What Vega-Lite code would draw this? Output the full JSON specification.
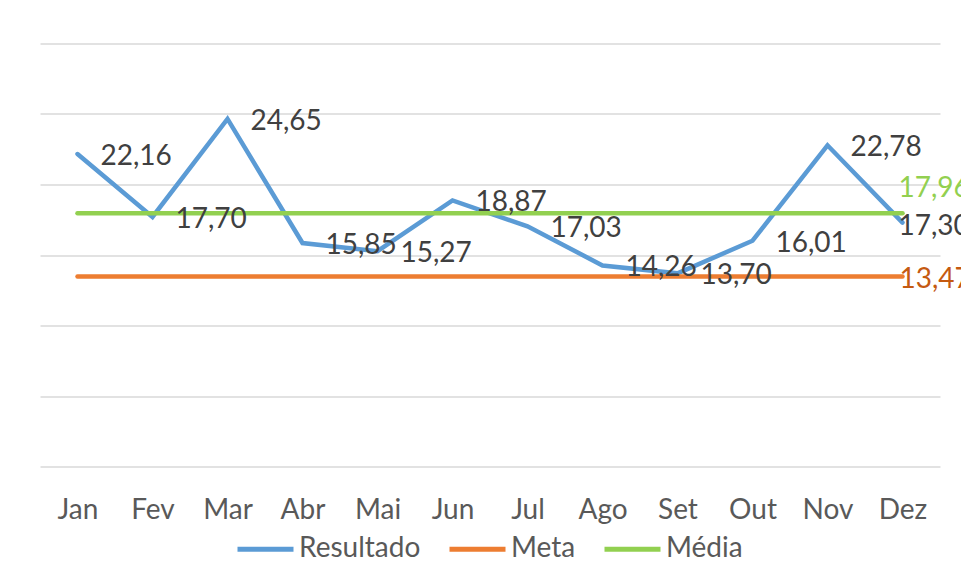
{
  "$schema": "https://vega.github.io/schema/vega-lite/v6.json",
  "width": 900,
  "height": 423,
  "autosize": {"type": "none"},
  "padding": {"left": 40, "top": 43.5, "right": 21, "bottom": 117.5},
  "background": "white",
  "config": {
    "locale": {"number": {"decimal": ",", "thousands": ".", "grouping": [3], "currency": ["R$", ""]}},
    "view": {"stroke": null},
    "font": "Lato"
  },
  "data": {
    "values": [
      {"mes": "Jan", "serie": "Resultado", "valor": 22.16},
      {"mes": "Fev", "serie": "Resultado", "valor": 17.70},
      {"mes": "Mar", "serie": "Resultado", "valor": 24.65},
      {"mes": "Abr", "serie": "Resultado", "valor": 15.85},
      {"mes": "Mai", "serie": "Resultado", "valor": 15.27},
      {"mes": "Jun", "serie": "Resultado", "valor": 18.87},
      {"mes": "Jul", "serie": "Resultado", "valor": 17.03},
      {"mes": "Ago", "serie": "Resultado", "valor": 14.26},
      {"mes": "Set", "serie": "Resultado", "valor": 13.70},
      {"mes": "Out", "serie": "Resultado", "valor": 16.01},
      {"mes": "Nov", "serie": "Resultado", "valor": 22.78},
      {"mes": "Dez", "serie": "Resultado", "valor": 17.30},
      {"mes": "Jan", "serie": "Meta", "valor": 13.47},
      {"mes": "Fev", "serie": "Meta", "valor": 13.47},
      {"mes": "Mar", "serie": "Meta", "valor": 13.47},
      {"mes": "Abr", "serie": "Meta", "valor": 13.47},
      {"mes": "Mai", "serie": "Meta", "valor": 13.47},
      {"mes": "Jun", "serie": "Meta", "valor": 13.47},
      {"mes": "Jul", "serie": "Meta", "valor": 13.47},
      {"mes": "Ago", "serie": "Meta", "valor": 13.47},
      {"mes": "Set", "serie": "Meta", "valor": 13.47},
      {"mes": "Out", "serie": "Meta", "valor": 13.47},
      {"mes": "Nov", "serie": "Meta", "valor": 13.47},
      {"mes": "Dez", "serie": "Meta", "valor": 13.47},
      {"mes": "Jan", "serie": "Média", "valor": 17.96},
      {"mes": "Fev", "serie": "Média", "valor": 17.96},
      {"mes": "Mar", "serie": "Média", "valor": 17.96},
      {"mes": "Abr", "serie": "Média", "valor": 17.96},
      {"mes": "Mai", "serie": "Média", "valor": 17.96},
      {"mes": "Jun", "serie": "Média", "valor": 17.96},
      {"mes": "Jul", "serie": "Média", "valor": 17.96},
      {"mes": "Ago", "serie": "Média", "valor": 17.96},
      {"mes": "Set", "serie": "Média", "valor": 17.96},
      {"mes": "Out", "serie": "Média", "valor": 17.96},
      {"mes": "Nov", "serie": "Média", "valor": 17.96},
      {"mes": "Dez", "serie": "Média", "valor": 17.96}
    ]
  },
  "encoding": {
    "x": {
      "field": "mes",
      "type": "ordinal",
      "sort": ["Jan", "Fev", "Mar", "Abr", "Mai", "Jun", "Jul", "Ago", "Set", "Out", "Nov", "Dez"],
      "scale": {"type": "point", "padding": 0.5},
      "axis": {
        "title": null,
        "domain": false,
        "ticks": false,
        "grid": false,
        "labelAngle": 0,
        "labelFont": "Lato",
        "labelFontSize": 28,
        "labelColor": "#595959",
        "labelPadding": 30
      }
    },
    "y": {
      "field": "valor",
      "type": "quantitative",
      "scale": {"domain": [0, 30], "nice": false, "zero": true},
      "axis": {
        "title": null,
        "values": [0, 5, 10, 15, 20, 25, 30],
        "labels": false,
        "ticks": false,
        "domain": false,
        "grid": true,
        "gridColor": "#d9d9d9",
        "gridWidth": 1.5
      }
    }
  },
  "layer": [
    {
      "mark": {"type": "line", "strokeWidth": 4.5, "strokeCap": "round"},
      "encoding": {
        "color": {
          "field": "serie",
          "type": "nominal",
          "scale": {"domain": ["Resultado", "Meta", "Média"], "range": ["#5B9BD5", "#ED7D31", "#92D050"]},
          "legend": {
            "orient": "none",
            "legendX": 195,
            "legendY": 475,
            "direction": "horizontal",
            "title": null,
            "symbolType": "stroke",
            "symbolSize": 3136,
            "symbolStrokeWidth": 5,
            "labelFont": "Lato",
            "labelFontSize": 28,
            "labelColor": "#595959",
            "labelOffset": 3,
            "columnPadding": 18,
            "padding": 0
          }
        }
      }
    },
    {
      "transform": [{"filter": "datum.serie === 'Resultado' && datum.mes !== 'Dez'"}],
      "mark": {"type": "text", "align": "left", "baseline": "middle", "dx": 23, "dy": 3, "fontSize": 28, "font": "Lato", "color": "#404040"},
      "encoding": {"text": {"field": "valor", "type": "quantitative", "format": ".2f"}}
    },
    {
      "transform": [{"filter": "datum.serie === 'Resultado' && datum.mes === 'Dez'"}],
      "mark": {"type": "text", "align": "left", "baseline": "middle", "dx": -4, "dy": 4, "fontSize": 28, "font": "Lato", "color": "#404040"},
      "encoding": {"text": {"field": "valor", "type": "quantitative", "format": ".2f"}}
    },
    {
      "transform": [{"filter": "datum.serie === 'Média' && datum.mes === 'Dez'"}],
      "mark": {"type": "text", "align": "left", "baseline": "middle", "dx": -4, "dy": -24, "fontSize": 28, "font": "Lato", "color": "#92D050"},
      "encoding": {"text": {"field": "valor", "type": "quantitative", "format": ".2f"}}
    },
    {
      "transform": [{"filter": "datum.serie === 'Meta' && datum.mes === 'Dez'"}],
      "mark": {"type": "text", "align": "left", "baseline": "middle", "dx": -3, "dy": 3, "fontSize": 28, "font": "Lato", "color": "#C55A11"},
      "encoding": {"text": {"field": "valor", "type": "quantitative", "format": ".2f"}}
    }
  ]
}
